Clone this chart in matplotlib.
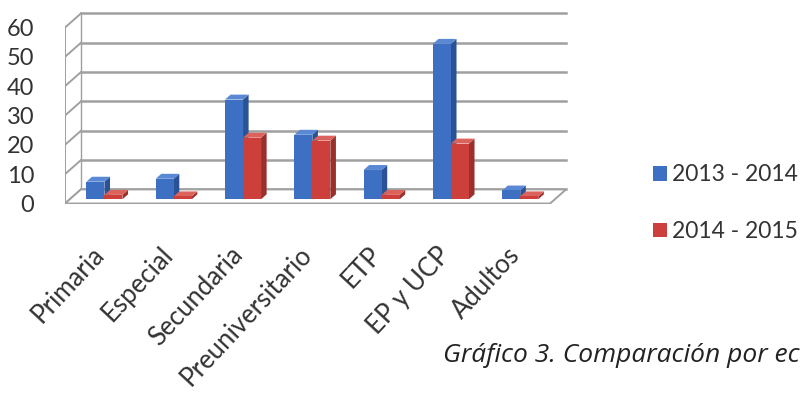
import matplotlib.pyplot as plt
from matplotlib.patches import Polygon, Patch

# Datos del gráfico
categorias = ["Primaria", "Especial", "Secundaria", "Preuniversitario", "ETP", "EP y UCP", "Adultos"]
serie_2013 = [6, 7, 34, 22, 10, 53, 3]
serie_2014 = [1.5, 1, 21, 20, 1.5, 19, 1]
etiquetas = ["2013 - 2014", "2014 - 2015"]
valores_y = [0, 10, 20, 30, 40, 50, 60]

plt.rcParams['font.family'] = ['Lato', 'DejaVu Sans']

# colores (frente, lado, arriba)
azul = ("#3d6fc2", "#2a5296", "#5a88d4")
rojo = ("#cc3f3a", "#99302c", "#dc625c")
gris = "#a0a0a0"
texto = "#333333"

# profundidad falsa 3D
ddx = 0.23
ddy = 4.8
ancho = 0.26
z0, z1 = 0.3, 0.65

fig = plt.figure(figsize=(8.02, 3.94), dpi=100)
ax = fig.add_axes([65 / 802, (394 - 203.5) / 394, 7.5 * 69.3 / 802, 66 * 2.933 / 394])
ax.set_xlim(-0.5, 7.0)
ax.set_ylim(0, 66)
n = len(categorias)
izq, der = -0.5, n - 0.5
ymax = valores_y[-1]

# pared trasera y lateral con líneas de cuadrícula
for v in valores_y:
    ax.plot([izq + ddx, der + ddx], [v + ddy, v + ddy], color=gris, lw=1.8, zorder=1)
    ax.plot([izq, izq + ddx], [v, v + ddy], color=gris, lw=1.4, zorder=1)
ax.plot([izq, izq], [0, ymax], color=gris, lw=1.4, zorder=1)
ax.plot([izq + ddx, izq + ddx], [ddy, ymax + ddy], color=gris, lw=1.0, zorder=1)

# suelo
suelo = Polygon([(izq, 0), (der, 0), (der + ddx, ddy), (izq + ddx, ddy)],
                closed=True, facecolor="white", edgecolor=gris, lw=1.4, zorder=1)
ax.add_patch(suelo)


def barra(x0, h, cols, z):
    fx, fy = z0 * ddx, z0 * ddy
    bx, by = z1 * ddx, z1 * ddy
    frente = [(x0 + fx, fy), (x0 + ancho + fx, fy), (x0 + ancho + fx, h + fy), (x0 + fx, h + fy)]
    lado = [(x0 + ancho + fx, fy), (x0 + ancho + bx, by), (x0 + ancho + bx, h + by), (x0 + ancho + fx, h + fy)]
    tapa = [(x0 + fx, h + fy), (x0 + ancho + fx, h + fy), (x0 + ancho + bx, h + by), (x0 + bx, h + by)]
    ax.add_patch(Polygon(lado, closed=True, facecolor=cols[1], edgecolor="none", zorder=z))
    ax.add_patch(Polygon(tapa, closed=True, facecolor=cols[2], edgecolor="none", zorder=z))
    ax.add_patch(Polygon(frente, closed=True, facecolor=cols[0], edgecolor="none", zorder=z))


for i in range(n):
    barra(i - ancho, serie_2013[i], azul, 3 + 2 * i)
    barra(i, serie_2014[i], rojo, 4 + 2 * i)

for s in ax.spines.values():
    s.set_visible(False)
ax.set_yticks(valores_y)
ax.set_yticklabels([str(v) for v in valores_y], fontsize=17, color=texto)
ax.set_xticks(range(n))
ax.set_xticklabels(categorias, rotation=47, ha="right", va="center",
                   rotation_mode="anchor", fontsize=18.5, color=texto)
ax.tick_params(axis="y", length=0, pad=22)
ax.tick_params(axis="x", length=0, pad=34)

handles = [Patch(facecolor=azul[0]), Patch(facecolor=rojo[0])]
fig.legend(handles, etiquetas, loc="upper left", bbox_to_anchor=(642 / 802, 1 - 153 / 394),
           frameon=False, fontsize=16.5, labelcolor=texto, handlelength=0.6, handleheight=0.6,
           handletextpad=0.2, labelspacing=1.55, borderpad=0)

fig.text(443 / 802, 1 - 355 / 394, "Gráfico 3. Comparación por ec", fontsize=19,
         style="italic", family="Open Sans", color="#222222", va="center", ha="left")

fig.savefig("out.png", dpi=100)
